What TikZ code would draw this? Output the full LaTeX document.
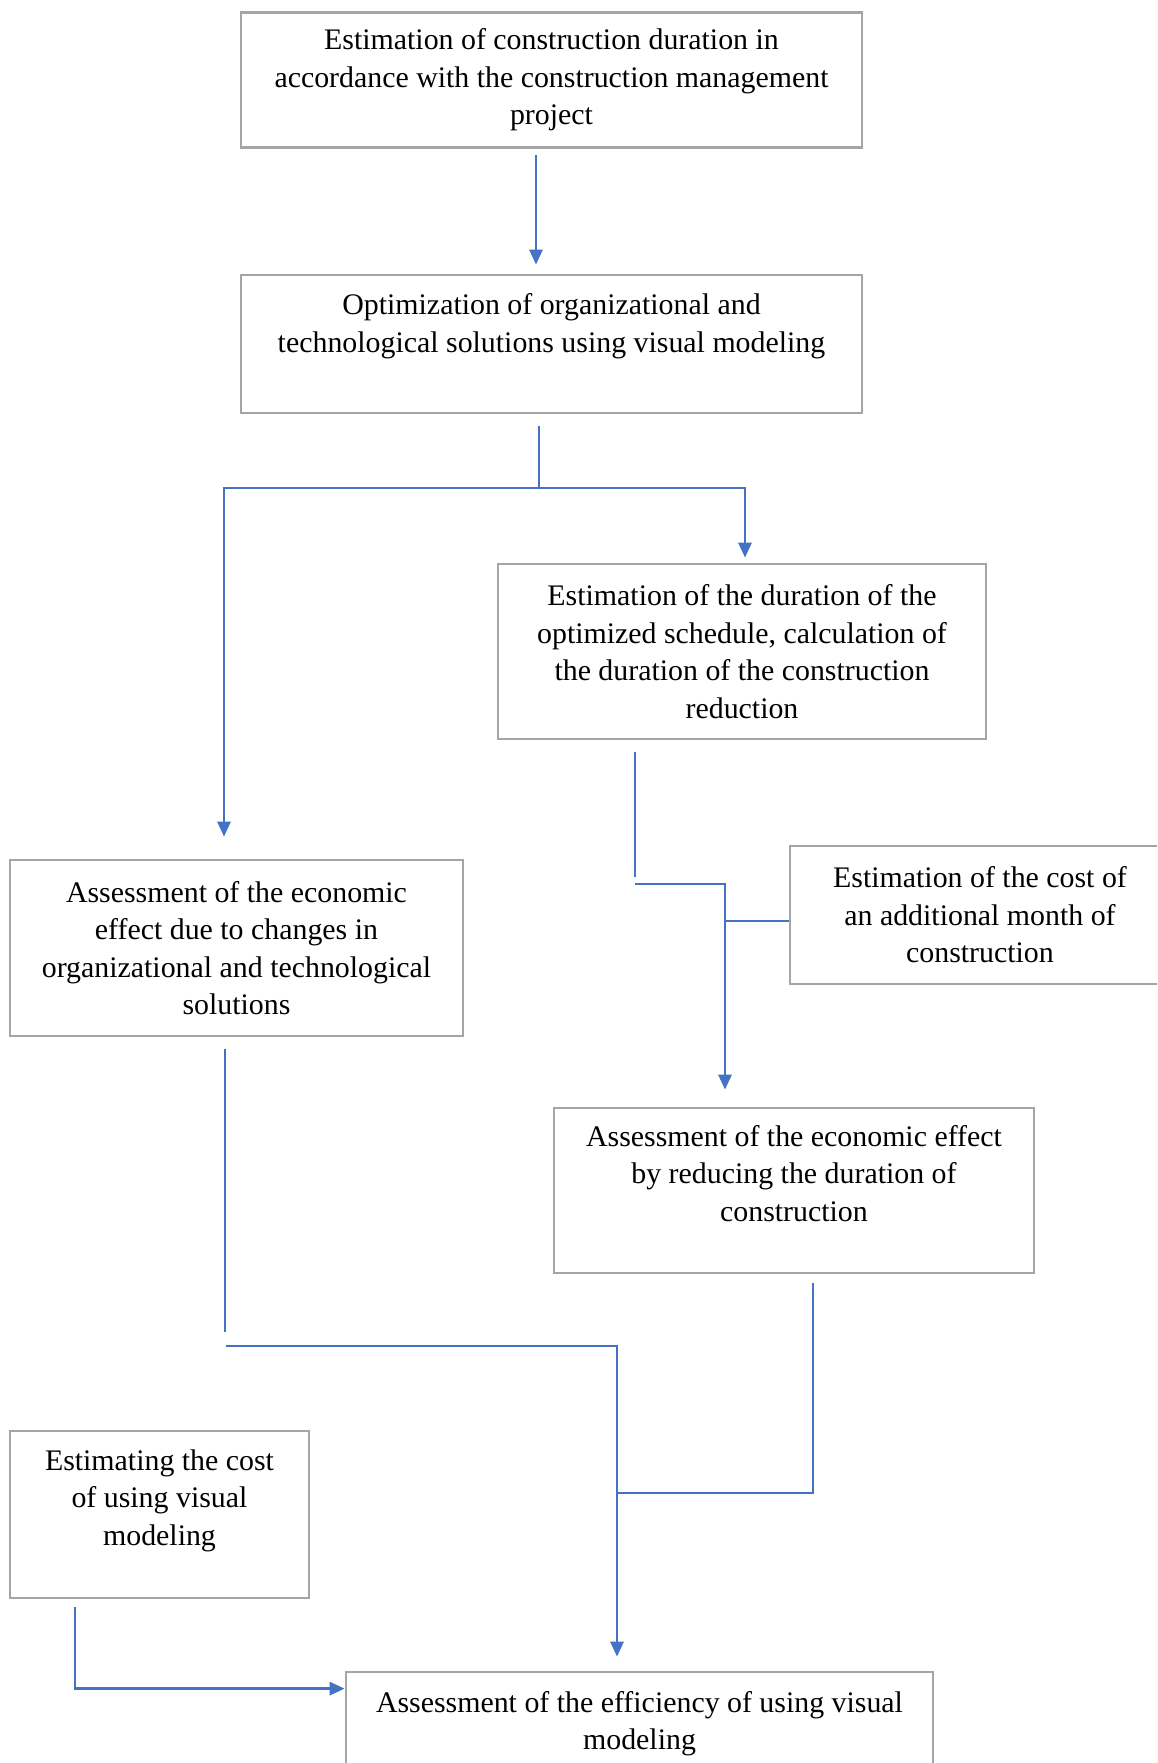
\documentclass[tikz,border=0pt]{standalone}
\usepackage{fontspec}
\setmainfont{Liberation Serif}
\usetikzlibrary{arrows.meta,calc}
\definecolor{gris}{HTML}{A5A5A5}
\definecolor{azul}{HTML}{4472C4}

\begin{document}
\begin{tikzpicture}[
        x=0.02cm, y=-0.02cm,
        caja/.style={
            draw=gris,
            line width=1.6pt,
            inner sep=0pt,
            align=center,
            font=\fontsize{17}{21.3}\selectfont
        },
        linea/.style={draw=azul, line width=1.6pt},
        flecha/.style={linea, -{Triangle[length=8.5pt,width=7.4pt]}}
    ]
        \useasboundingbox (0,0) rectangle (1157,1763);
        \clip (0,0) rectangle (1157,1763);

        \node[caja, minimum width=12.42cm, minimum height=2.7cm] (estimacion) at (551.5,80)
        {Estimation of construction duration in\\
        accordance with the construction management\\project};

        \node[caja, minimum width=12.42cm, minimum height=2.76cm] (optimizacion) at (551.5,344)
        {Optimization of organizational and\\
        technological solutions using visual modeling\\[-4pt] \strut};

        \node[caja, minimum width=9.76cm, minimum height=3.5cm] (duracion) at (742,651.5)
        {Estimation of the duration of the\\optimized schedule, calculation of\\
        the duration of the construction\\reduction};

        \node[caja, minimum width=9.06cm, minimum height=3.52cm] (efectoorg) at (236.5,948)
        {Assessment of the economic\\effect due to changes in\\
        organizational and technological\\solutions};

        \node[caja, minimum width=7.6cm, minimum height=2.76cm] (costomes) at (980,915)
        {Estimation of the cost of\\an additional month of\\construction};

        \node[caja, minimum width=9.6cm, minimum height=3.3cm] (efectored) at (794,1190.5)
        {Assessment of the economic effect\\by reducing the duration of\\construction\\[-8pt] \strut};

        \node[caja, minimum width=5.98cm, minimum height=3.34cm] (costomodelo) at (159.5,1514.5)
        {Estimating the cost\\of using visual\\modeling\\[-8pt] \strut};

        \node[caja, minimum width=11.74cm, minimum height=2.76cm] (eficiencia) at (639.5,1741)
        {Assessment of the efficiency of using visual\\modeling\\[-4pt] \strut};

        % puntos de union
        \coordinate (rama) at (539,488);
        \coordinate (codo) at (635,884);
        \coordinate (union) at (226,1346);
        \coordinate (union2) at (617,1493);

        \draw[flecha] ($(estimacion.south)+(-15.5,6)$) -- ($(optimizacion.north)+(-15.5,-9)$);

        \draw[linea] ($(optimizacion.south)+(-12.5,12)$) -- (rama);
        \draw[flecha] (rama) -| ($(efectoorg.north)+(-12.5,-22)$);
        \draw[flecha] (rama) -| ($(duracion.north)+(3,-5)$);

        \draw[linea] ($(duracion.south)+(-107,12)$) -- ++(0,125);
        \draw[flecha] (codo) -| ($(efectored.north)+(-69,-17)$);
        \draw[linea] ($(costomes.west)+(0,6)$) -- ++(-65,0);

        \draw[linea] ($(efectoorg.south)+(-11.5,12)$) -- ++(0,283);
        \draw[flecha] (union) -| ($(eficiencia.north)+(-22.5,-14)$);
        \draw[linea] ($(efectored.south)+(19,9)$) |- (union2);

        \draw[flecha] ($(costomodelo.south)+(-84.5,8)$) |- ($(eficiencia.north west)+(0,18)$);
    \end{tikzpicture}
\end{document}
